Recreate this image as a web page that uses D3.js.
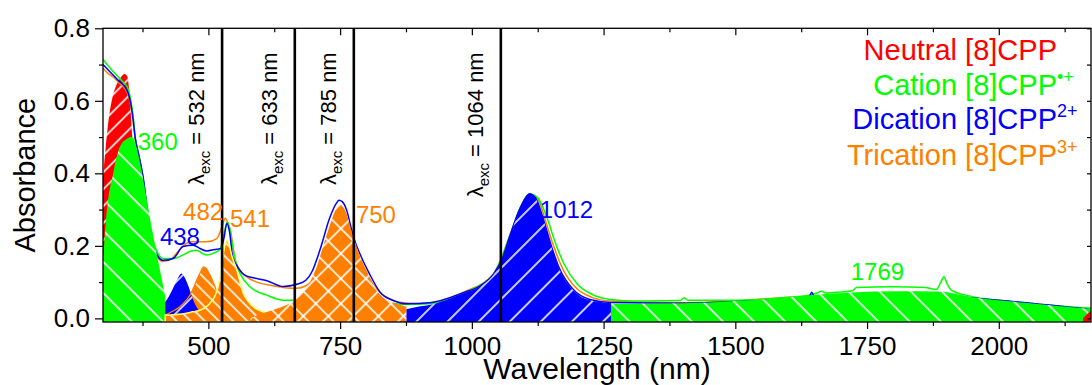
<!DOCTYPE html>
<html>
<head>
<meta charset="utf-8">
<script src="https://cdn.jsdelivr.net/npm/d3@7"></script>
<style>
  body { margin: 0; background: #fff; }
  #chart { width: 1092px; height: 385px; }
  text { font-family: "Liberation Sans", Arial, sans-serif; }
</style>
</head>
<body>
<div id="chart"></div>
<script>
// ---- data: [wavelength nm, absorbance] ----

// deconvoluted bands (filled)
const neutralBand = [[300,0.39],[305,0.47],[310,0.54],[318,0.61],[326,0.645],[334,0.665],[341,0.674],[346,0.668],[349,0.64],[352,0.58],[356,0.49],[362,0.38],[372,0.2],[385,0.07],[400,0]]
const neutralTail = [[2160,0],[2168,0.012],[2175,0.02]]
const cationBandUV = [[300,0.152],[305,0.26],[311,0.34],[318,0.39],[325,0.44],[332,0.473],[345,0.495],[355,0.5],[362,0.48],[370,0.43],[378,0.37],[390,0.27],[403,0.17],[412,0.105],[418,0.06]]
const cationBandNIR = [[1264,0.04],[1350,0.041],[1450,0.044],[1520,0.049],[1580,0.055],[1628,0.062],[1680,0.068],[1730,0.072],[1800,0.075],[1886,0.074],[1950,0.058],[2050,0.043],[2175,0.026]]
const dicationBandVis = [[418,0.045],[425,0.06],[432,0.08],[440,0.105],[449,0.124],[456,0.11],[463,0.085],[470,0.055],[478,0.03],[488,0.012],[500,0.004]]
const dicationBandNIR = [[876,0.025],[900,0.033],[920,0.037],[950,0.05],[984,0.069],[1015,0.087],[1041,0.12],[1057,0.16],[1072,0.225],[1091,0.3],[1103,0.335],[1110,0.343],[1117,0.338],[1123,0.326],[1136,0.271],[1151,0.197],[1167,0.133],[1192,0.078],[1224,0.05],[1264,0.043]]
const tricationBand491 = [[418,0.009],[430,0.018],[446,0.032],[458,0.05],[465,0.064],[472,0.085],[478,0.106],[485,0.128],[491,0.142],[496,0.138],[503,0.12],[510,0.097],[517,0.07],[525,0.04],[535,0.02],[545,0.008]]
const tricationBand541 = [[418,0.009],[450,0.012],[470,0.018],[485,0.023],[497,0.033],[505,0.045],[512,0.06],[518,0.085],[524,0.13],[528,0.175],[532,0.205],[535,0.216],[539,0.205],[545,0.17],[554,0.133],[560,0.1],[566,0.07],[575,0.048],[585,0.032],[600,0.02],[615,0.013],[648,0.009]]
const tricationBand750 = [[580,0],[598,0.012],[617,0.02],[640,0.032],[664,0.05],[680,0.072],[693,0.1],[705,0.14],[718,0.2],[730,0.255],[740,0.295],[746,0.31],[750,0.315],[755,0.31],[762,0.29],[768,0.26],[775,0.225],[787,0.175],[800,0.133],[813,0.095],[826,0.065],[840,0.05],[857,0.04],[876,0.032]]

// measured spectra (lines)
const cationLine = [[300,0.715],[305,0.705],[315,0.688],[325,0.672],[335,0.657],[341,0.648],[348,0.632],[353,0.6],[357,0.56],[361,0.5],[368,0.45],[376,0.39],[385,0.29],[395,0.215],[404,0.18],[414,0.165],[433,0.165],[452,0.175],[466,0.185],[478,0.188],[490,0.178],[497,0.175],[510,0.18],[522,0.19],[530,0.235],[536,0.266],[541,0.245],[546,0.2],[553,0.15],[560,0.124],[579,0.087],[611,0.064],[642,0.05],[668,0.05],[690,0.055],[710,0.07],[740,0.1],[780,0.09],[830,0.05],[876,0.038],[920,0.04],[984,0.07],[1041,0.122],[1072,0.227],[1091,0.302],[1110,0.343],[1125,0.333],[1142,0.28],[1158,0.21],[1175,0.15],[1200,0.095],[1230,0.065],[1264,0.052],[1300,0.048],[1395,0.049],[1403,0.057],[1410,0.05],[1500,0.05],[1600,0.058],[1640,0.064],[1655,0.07],[1664,0.075],[1672,0.07],[1700,0.073],[1722,0.076],[1730,0.085],[1800,0.087],[1860,0.085],[1882,0.08],[1890,0.1],[1896,0.115],[1902,0.095],[1910,0.078],[1950,0.06],[2000,0.05],[2175,0.028]]
const dicationLine = [[300,0.70],[310,0.685],[320,0.67],[330,0.655],[341,0.64],[348,0.62],[353,0.59],[357,0.55],[361,0.5],[368,0.45],[376,0.39],[385,0.29],[395,0.207],[404,0.172],[414,0.16],[433,0.165],[452,0.198],[471,0.202],[485,0.192],[497,0.186],[512,0.19],[524,0.193],[530,0.225],[535,0.262],[540,0.24],[546,0.17],[553,0.148],[568,0.12],[585,0.112],[611,0.104],[642,0.088],[668,0.094],[685,0.105],[697,0.13],[712,0.19],[731,0.28],[743,0.318],[748,0.326],[754,0.322],[762,0.3],[770,0.255],[776,0.222],[790,0.17],[805,0.125],[826,0.072],[850,0.05],[876,0.04],[920,0.043],[984,0.071],[1015,0.089],[1041,0.122],[1057,0.162],[1072,0.227],[1091,0.302],[1110,0.344],[1123,0.327],[1136,0.272],[1151,0.199],[1167,0.135],[1192,0.08],[1224,0.052],[1264,0.044],[1400,0.042],[1520,0.047],[1640,0.06],[1645,0.072],[1650,0.06],[1800,0.07],[2000,0.05],[2175,0.024]]
const tricationLine = [[300,0.69],[310,0.675],[320,0.665],[330,0.65],[341,0.635],[348,0.615],[353,0.585],[357,0.545],[361,0.495],[368,0.445],[376,0.385],[385,0.285],[395,0.2],[404,0.166],[412,0.157],[425,0.16],[440,0.18],[452,0.2],[470,0.211],[497,0.211],[516,0.22],[526,0.253],[532,0.276],[537,0.262],[543,0.234],[550,0.165],[557,0.14],[572,0.115],[592,0.1],[623,0.09],[650,0.084],[668,0.083],[685,0.09],[700,0.11],[720,0.19],[745,0.3],[750,0.305],[760,0.285],[780,0.19],[820,0.08],[860,0.045],[900,0.04],[984,0.072],[1041,0.123],[1072,0.228],[1091,0.303],[1110,0.342],[1125,0.33],[1140,0.268],[1155,0.2],[1172,0.138],[1197,0.085],[1228,0.058],[1264,0.048],[1400,0.043],[1700,0.064],[2000,0.046],[2175,0.024]]

// excitation wavelengths: nominal values and where the lines sit on the axis
const excitationNm = [532, 633, 785, 1064]
const excitationDrawnAt = [526, 664, 776, 1055]

// peak labels and their anchors [nm, absorbance]
const peakText = ['360', '438', '482', '541', '750', '1012', '1769']
const peakSpecies = ['cation', 'dication', 'trication', 'trication', 'trication', 'dication', 'cation']
const peakAnchor = [[366,0.464],[408,0.202],[452,0.271],[541,0.252],[780,0.263],[1129,0.277],[1719,0.106]]

// legend
const legendNames = ['Neutral [8]CPP', 'Cation [8]CPP', 'Dication [8]CPP', 'Trication [8]CPP']
const legendSup = ['', '\u2022+', '2+', '3+']
const legendSpecies = ['neutral', 'cation', 'dication', 'trication']

// ticks
const xMajor = [500, 750, 1000, 1250, 1500, 1750, 2000]
const xMinor = [375, 625, 875, 1125, 1375, 1625, 1875, 2125]
const yMajor = [0, 0.2, 0.4, 0.6, 0.8]
const yMinor = [0.1, 0.3, 0.5, 0.7]

// ---- styles ----
const colors = { neutral: '#ff0000', cation: '#00ff00', dication: '#0000ff', trication: '#ff8000' }

const dimensions = {
  width: 1092,
  height: 385,
  margin: { top: 28.3, right: 1, bottom: 63, left: 103 }
}
dimensions.ctrWidth = dimensions.width - dimensions.margin.left - dimensions.margin.right
dimensions.ctrHeight = dimensions.height - dimensions.margin.top - dimensions.margin.bottom

const svg = d3.select('#chart').append('svg')
  .attr('width', dimensions.width)
  .attr('height', dimensions.height)

const defs = svg.append('defs')

// hatch: white lines on a coloured ground, rotated
function hatch(id, color, size, angle, cross) {
  const p = defs.append('pattern')
    .attr('id', id)
    .attr('patternUnits', 'userSpaceOnUse')
    .attr('width', size).attr('height', size)
    .attr('patternTransform', `rotate(${angle})`)
  p.append('rect').attr('width', size).attr('height', size).attr('fill', color)
  p.append('line')
    .attr('x1', size / 2).attr('x2', size / 2).attr('y1', 0).attr('y2', size)
    .attr('stroke', '#fff').attr('stroke-width', 1.6)
  if (cross) {
    p.append('line')
      .attr('y1', size / 2).attr('y2', size / 2).attr('x1', 0).attr('x2', size)
      .attr('stroke', '#fff').attr('stroke-width', 1.6)
  }
}
hatch('hRed', colors.neutral, 12, 45)
hatch('hGreen', colors.cation, 22, -45)
hatch('hBlue', colors.dication, 22, 45)
hatch('hOrange', colors.trication, 10, -45)
hatch('hOrangeX', colors.trication, 17.7, 45, true)

defs.append('clipPath').attr('id', 'plotClip')
  .append('rect')
  .attr('width', dimensions.ctrWidth)
  .attr('height', dimensions.ctrHeight)

const ctr = svg.append('g')
  .attr('transform', `translate(${dimensions.margin.left}, ${dimensions.margin.top})`)

// scales
const xScale = d3.scaleLinear()
  .domain([300, 2175])
  .range([0, dimensions.ctrWidth])
const yScale = d3.scaleLinear()
  .domain([-0.01, 0.8])
  .range([dimensions.ctrHeight, 0])

const area = d3.area()
  .x(d => xScale(d[0]))
  .y0(dimensions.ctrHeight)
  .y1(d => yScale(d[1]))
  .curve(d3.curveMonotoneX)
const line = d3.line()
  .x(d => xScale(d[0]))
  .y(d => yScale(d[1]))
  .curve(d3.curveMonotoneX)

const plot = ctr.append('g').attr('clip-path', 'url(#plotClip)')

function band(data, fill, stroke, sw) {
  plot.append('path')
    .datum(data)
    .attr('d', area)
    .attr('fill', fill)
    .attr('stroke', stroke || 'none')
    .attr('stroke-width', sw || 0)
}

// red band sits under the spectra, the others above them
band(neutralBand, 'url(#hRed)')

const spectra = [
  { data: tricationLine, color: colors.trication },
  { data: cationLine, color: colors.cation },
  { data: dicationLine, color: colors.dication }
]
plot.selectAll('.spec')
  .data(spectra)
  .join('path')
  .attr('class', 'spec')
  .attr('d', d => line(d.data))
  .attr('fill', 'none')
  .attr('stroke', d => d.color)
  .attr('stroke-width', 1.5)

band(cationBandUV, 'url(#hGreen)')
band(tricationBand491, 'url(#hOrange)')
band(dicationBandVis, 'url(#hBlue)')
plot.append('path')
  .datum(tricationBand491)
  .attr('d', line)
  .attr('fill', 'none')
  .attr('stroke', colors.trication)
  .attr('stroke-width', 1.2)
band(tricationBand541, 'url(#hOrange)', '#ffff70', 1.5)
band(tricationBand750, 'url(#hOrangeX)')
band(dicationBandNIR, 'url(#hBlue)')
band(cationBandNIR, 'url(#hGreen)')
band(neutralTail, 'url(#hRed)')

// excitation lines
plot.selectAll('.exc')
  .data(excitationDrawnAt)
  .join('line')
  .attr('class', 'exc')
  .attr('x1', d => xScale(d)).attr('x2', d => xScale(d))
  .attr('y1', 0).attr('y2', dimensions.ctrHeight)
  .attr('stroke', '#000')
  .attr('stroke-width', 2.6)

// excitation labels
excitationNm.forEach((nm, i) => {
  const t = ctr.append('text')
    .attr('transform', `translate(${xScale(excitationDrawnAt[i]) - 18}, 24) rotate(-90)`)
    .attr('text-anchor', 'end')
    .attr('fill', '#000')
    .style('font-size', '22px')
  t.append('tspan').text('\u03bb')
  t.append('tspan').attr('dy', 6).style('font-size', '15px').text('exc')
  t.append('tspan').attr('dy', -6).text(` = ${nm} nm`)
})

// peak labels
ctr.selectAll('.peak')
  .data(peakText)
  .join('text')
  .attr('class', 'peak')
  .attr('x', (d, i) => xScale(peakAnchor[i][0]))
  .attr('y', (d, i) => yScale(peakAnchor[i][1]))
  .attr('fill', (d, i) => colors[peakSpecies[i]])
  .style('font-size', '24px')
  .text(d => d)

// frame
ctr.append('rect')
  .attr('width', dimensions.ctrWidth)
  .attr('height', dimensions.ctrHeight)
  .attr('fill', 'none')
  .attr('stroke', '#000')
  .attr('stroke-width', 1.3)

// axes
function styleAxis(g) {
  g.select('.domain').remove()
  g.selectAll('line').attr('stroke', '#000').attr('stroke-width', 1.2)
}
ctr.append('g')
  .attr('transform', `translate(0, ${dimensions.ctrHeight})`)
  .call(d3.axisBottom(xScale).tickValues(xMinor).tickSize(4).tickFormat(''))
  .call(styleAxis)
const xAxisGroup = ctr.append('g')
  .attr('transform', `translate(0, ${dimensions.ctrHeight})`)
  .call(d3.axisBottom(xScale).tickValues(xMajor).tickSize(7).tickPadding(8).tickFormat(d3.format('d')))
  .call(styleAxis)
xAxisGroup.selectAll('text')
  .attr('fill', '#000')
  .style('font-size', '26px')
ctr.append('g')
  .call(d3.axisTop(xScale).tickValues(xMinor).tickSize(-4).tickFormat(''))
  .call(styleAxis)
ctr.append('g')
  .call(d3.axisTop(xScale).tickValues(xMajor).tickSize(-7).tickFormat(''))
  .call(styleAxis)

ctr.append('g')
  .call(d3.axisLeft(yScale).tickValues(yMinor).tickSize(4).tickFormat(''))
  .call(styleAxis)
const yAxisGroup = ctr.append('g')
  .call(d3.axisLeft(yScale).tickValues(yMajor).tickSize(8).tickPadding(5).tickFormat(d3.format('.1f')))
  .call(styleAxis)
yAxisGroup.selectAll('text')
  .attr('fill', '#000')
  .style('font-size', '26px')
ctr.append('g')
  .attr('transform', `translate(${dimensions.ctrWidth}, 0)`)
  .call(d3.axisRight(yScale).tickValues(yMajor.concat(yMinor)).tickSize(-4).tickFormat(''))
  .call(styleAxis)

// axis titles
xAxisGroup.append('text')
  .attr('x', dimensions.ctrWidth / 2)
  .attr('y', dimensions.margin.bottom - 6)
  .attr('fill', '#000')
  .attr('text-anchor', 'middle')
  .style('font-size', '30px')
  .text('Wavelength (nm)')

yAxisGroup.append('text')
  .attr('x', -dimensions.ctrHeight / 2)
  .attr('y', -dimensions.margin.left + 35)
  .attr('fill', '#000')
  .attr('text-anchor', 'middle')
  .attr('transform', 'rotate(-90)')
  .style('font-size', '29px')
  .text('Absorbance')

// legend
const legendBase = [60, 95, 129, 165]
legendNames.forEach((name, i) => {
  const c = colors[legendSpecies[i]]
  svg.append('text')
    .attr('x', 1057).attr('y', legendBase[i])
    .attr('text-anchor', 'end')
    .attr('fill', c)
    .style('font-size', '29px')
    .text(name)
  if (legendSup[i]) {
    svg.append('text')
      .attr('x', 1057).attr('y', legendBase[i] - 12)
      .attr('fill', c)
      .style('font-size', '18px')
      .text(legendSup[i])
  }
})
</script>
</body>
</html>
